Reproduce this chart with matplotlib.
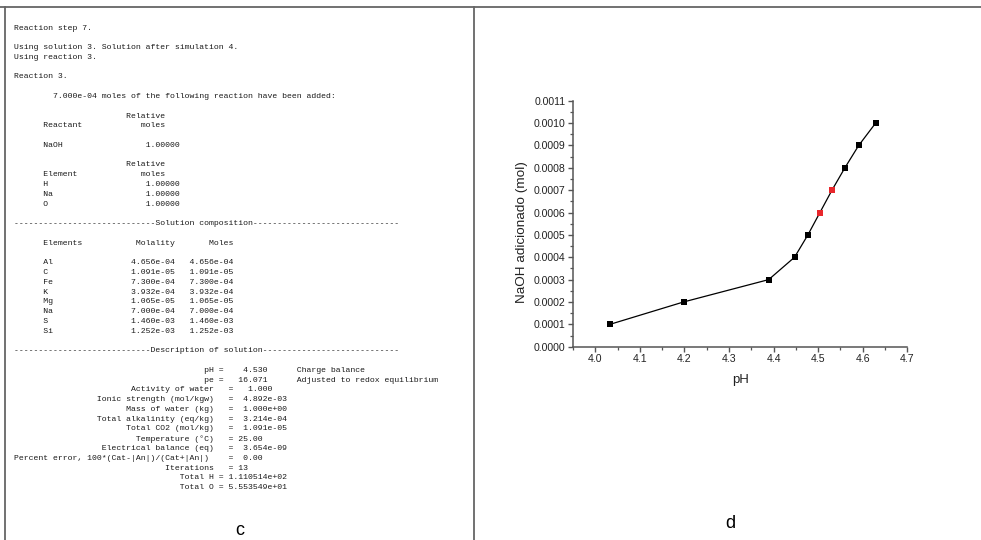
import matplotlib.pyplot as plt
from matplotlib.lines import Line2D
from matplotlib.ticker import MultipleLocator, FormatStrFormatter

# titration data (panel d)
ph = [4.033, 4.198, 4.389, 4.447, 4.477, 4.504, 4.531, 4.560, 4.591, 4.629]
naoh = [0.0001, 0.0002, 0.0003, 0.0004, 0.0005, 0.0006, 0.0007, 0.0008, 0.0009, 0.0010]
highlight = [False, False, False, False, False, True, True, False, False, False]

# PHREEQC output (panel c): line index -> list of (column, text)
elements = ['Al', 'C', 'Fe', 'K', 'Mg', 'Na', 'S', 'Si']
molality = ['4.656e-04', '1.091e-05', '7.300e-04', '3.932e-04',
            '1.065e-05', '7.000e-04', '1.460e-03', '1.252e-03']
desc = [
    (24, 'Activity of water', 44, 48, '1.000'),
    (17, 'Ionic strength (mol/kgw)', 44, 47, '4.892e-03'),
    (23, 'Mass of water (kg)', 44, 47, '1.000e+00'),
    (17, 'Total alkalinity (eq/kg)', 44, 47, '3.214e-04'),
    (23, 'Total CO2 (mol/kg)', 44, 47, '1.091e-05'),
    (25, 'Temperature (°C)', 44, 46, '25.00'),
    (18, 'Electrical balance (eq)', 44, 47, '3.654e-09'),
    (0, 'Percent error, 100*(Cat-|An|)/(Cat+|An|)', 44, 47, '0.00'),
    (31, 'Iterations', 44, 46, '13'),
    (34, 'Total H', 42, 44, '1.110514e+02'),
    (34, 'Total O', 42, 44, '5.553549e+01'),
]

lines = {
    0: [(0, 'Reaction step 7.')],
    2: [(0, 'Using solution 3. Solution after simulation 4.')],
    3: [(0, 'Using reaction 3.')],
    5: [(0, 'Reaction 3.')],
    7: [(8, '7.000e-04 moles of the following reaction have been added:')],
    9: [(23, 'Relative')],
    10: [(6, 'Reactant'), (26, 'moles')],
    12: [(6, 'NaOH'), (27, '1.00000')],
    14: [(23, 'Relative')],
    15: [(6, 'Element'), (26, 'moles')],
    16: [(6, 'H'), (27, '1.00000')],
    17: [(6, 'Na'), (27, '1.00000')],
    18: [(6, 'O'), (27, '1.00000')],
    20: [(0, '-' * 29 + 'Solution composition' + '-' * 30)],
    22: [(6, 'Elements'), (25, 'Molality'), (40, 'Moles')],
    33: [(0, '-' * 28 + 'Description of solution' + '-' * 28)],
    35: [(39, 'pH'), (42, '='), (47, '4.530'), (58, 'Charge balance')],
    36: [(39, 'pe'), (42, '='), (46, '16.071'), (58, 'Adjusted to redox equilibrium')],
}
for i, (el, m) in enumerate(zip(elements, molality)):
    lines[24 + i] = [(6, el), (24, m), (36, m)]
for i, (c0, lab, ceq, cv, val) in enumerate(desc):
    lines[37 + i] = [(c0, lab), (ceq, '='), (cv, val)]


def build(segs):
    s = ''
    for col, txt in segs:
        s = s.ljust(col) + txt
    return s


W, H = 981, 540
fig = plt.figure(figsize=(W / 100, H / 100), dpi=100)

# panel frame lines
fc = '#666666'
fig.add_artist(Line2D([0, 1], [1 - 6.5 / H] * 2, transform=fig.transFigure, color=fc, lw=1.3))
fig.add_artist(Line2D([5 / W] * 2, [0, 1 - 6.5 / H], transform=fig.transFigure, color=fc, lw=1.3))
fig.add_artist(Line2D([473.7 / W] * 2, [0, 1 - 6.5 / H], transform=fig.transFigure, color=fc, lw=1.3))

# panel c text
x0, y0, dy = 14.5, 28, 9.78
for n, segs in lines.items():
    fig.text(x0 / W, 1 - (y0 + dy * n) / H, build(segs), family='Liberation Mono',
             fontsize=5.9, color='#1a1a1a', va='center', ha='left')
fig.text(240 / W, 1 - 535 / H, 'c', family='Liberation Sans', fontsize=13, ha='center', va='baseline')
fig.text(730.7 / W, 1 - 527.7 / H, 'd', family='Liberation Sans', fontsize=13, ha='center', va='baseline')

# panel d plot
ax = fig.add_axes([573 / W, 1 - 346.7 / H, (907.3 - 573) / W, (346.7 - 100.7) / H])
ax.plot(ph, naoh, color='black', lw=0.9, zorder=2)
for x, y, h in zip(ph, naoh, highlight):
    ax.plot(x, y, marker='s', ms=4.6, color='#e8262b' if h else 'black',
            markeredgewidth=0, zorder=3)

ax.set_xlim(3.95, 4.7)
ax.set_ylim(0, 0.0011)
ax.xaxis.set_major_locator(MultipleLocator(0.1))
ax.xaxis.set_minor_locator(MultipleLocator(0.05))
ax.yaxis.set_major_locator(MultipleLocator(0.0001))
ax.yaxis.set_minor_locator(MultipleLocator(0.00005))
ax.xaxis.set_major_formatter(FormatStrFormatter('%.1f'))
ax.yaxis.set_major_formatter(FormatStrFormatter('%.4f'))
for s in ['top', 'right']:
    ax.spines[s].set_visible(False)
for s in ['left', 'bottom']:
    ax.spines[s].set_color('#555555')
    ax.spines[s].set_linewidth(1.1)
ax.tick_params(which='major', length=3.5, width=1.0, color='#555555',
               labelsize=7.6, labelcolor='#222222', pad=2)
ax.tick_params(which='minor', length=2, width=0.9, color='#555555')
for lab in ax.get_xticklabels() + ax.get_yticklabels():
    lab.set_family('Liberation Sans')

ax.set_xlabel('pH', family='Liberation Sans', fontsize=9.5, color='#222222')
ax.set_ylabel('NaOH adicionado (mol)', family='Liberation Sans', fontsize=9.7, color='#222222')
ax.xaxis.set_label_coords(0.5, -0.113)
ax.yaxis.set_label_coords(-0.135, 0.466)

fig.savefig('out.png', dpi=100)
